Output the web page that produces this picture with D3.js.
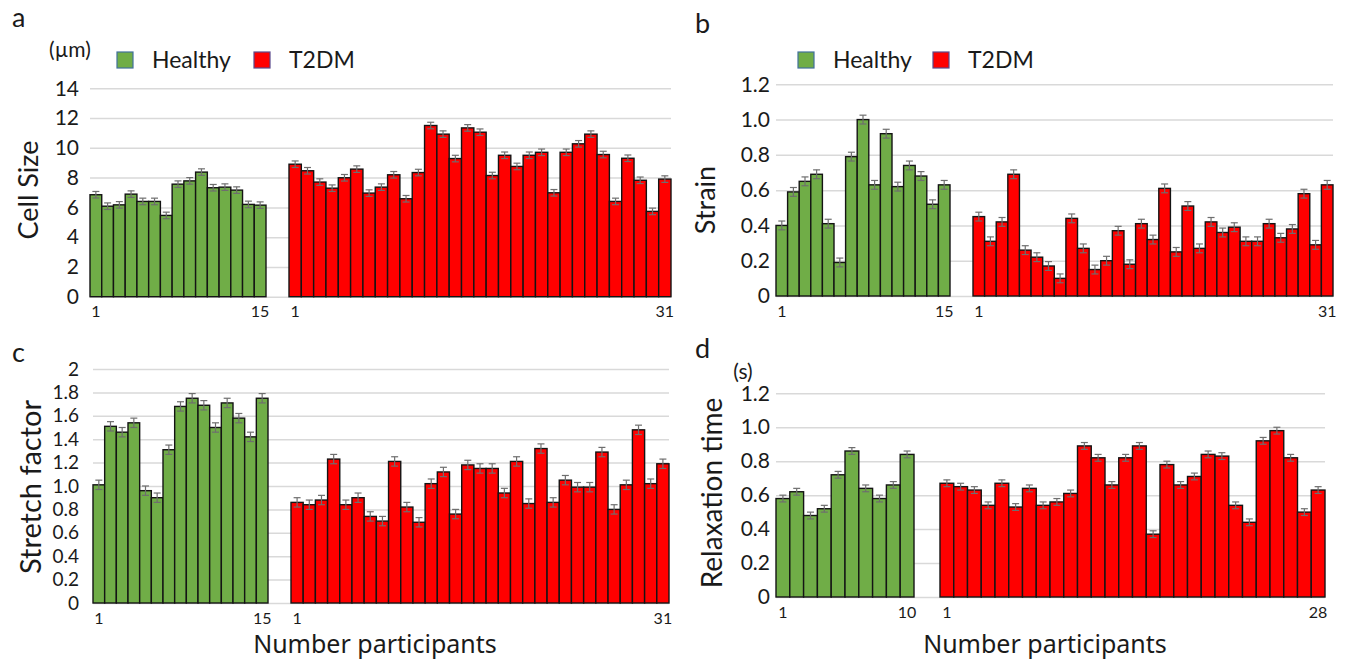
<!DOCTYPE html>
<html>
<head>
<meta charset="utf-8">
<script src="https://cdn.jsdelivr.net/npm/d3@7"></script>
<style>
  body { margin: 0; background: #fff; }
  svg text { font-family: Lato, "Liberation Sans", sans-serif; fill: #1a1a1a; }
</style>
</head>
<body>
<svg id="chart" width="1347" height="662"></svg>
<script>
// values, one per participant
const healthyCellSize = [6.85, 6.08, 6.17, 6.89, 6.4, 6.4, 5.46, 7.56, 7.78, 8.37, 7.32, 7.36, 7.16, 6.2, 6.15];
const t2dmCellSize = [8.9, 8.46, 7.7, 7.29, 7.99, 8.57, 6.96, 7.36, 8.19, 6.58, 8.34, 11.5, 10.92, 9.28, 11.34,
  11.05, 8.14, 9.5, 8.75, 9.5, 9.7, 6.98, 9.7, 10.27, 10.92, 9.55, 6.4, 9.3, 7.82, 5.73, 7.9];

const healthyStrain = [0.40, 0.59, 0.65, 0.69, 0.41, 0.19, 0.79, 1.0, 0.63, 0.92, 0.62, 0.74, 0.68, 0.52, 0.63];
const t2dmStrain = [0.45, 0.31, 0.42, 0.69, 0.26, 0.22, 0.17, 0.10, 0.44, 0.27, 0.15, 0.20, 0.37, 0.18, 0.41,
  0.32, 0.61, 0.25, 0.51, 0.27, 0.42, 0.36, 0.39, 0.31, 0.31, 0.41, 0.33, 0.38, 0.58, 0.29, 0.63];

const healthyStretch = [1.01, 1.51, 1.46, 1.54, 0.96, 0.90, 1.31, 1.68, 1.75, 1.69, 1.50, 1.71, 1.58, 1.42, 1.75];
const t2dmStretch = [0.86, 0.84, 0.88, 1.23, 0.84, 0.90, 0.74, 0.70, 1.21, 0.82, 0.69, 1.02, 1.12, 0.76, 1.18,
  1.15, 1.15, 0.94, 1.21, 0.85, 1.32, 0.86, 1.05, 0.99, 0.99, 1.29, 0.80, 1.01, 1.48, 1.02, 1.19];

const healthyRelax = [0.58, 0.62, 0.48, 0.52, 0.72, 0.86, 0.64, 0.58, 0.66, 0.84];
const t2dmRelax = [0.67, 0.65, 0.63, 0.54, 0.67, 0.53, 0.64, 0.54, 0.56, 0.61, 0.89, 0.82, 0.66, 0.82,
  0.89, 0.37, 0.78, 0.66, 0.71, 0.84, 0.83, 0.54, 0.44, 0.92, 0.98, 0.82, 0.50, 0.63];

// error bar half-widths per panel
const errCellSize = 0.22;
const errStrain = 0.025;
const errStretch = 0.04;
const errRelax = 0.02;

const ticksCellSize = [0, 2, 4, 6, 8, 10, 12, 14];
const ticksStrain = [0, 0.2, 0.4, 0.6, 0.8, 1.0, 1.2];
const ticksStretch = [0, 0.2, 0.4, 0.6, 0.8, 1.0, 1.2, 1.4, 1.6, 1.8, 2];
const ticksRelax = [0, 0.2, 0.4, 0.6, 0.8, 1.0, 1.2];
const labelsCellSize = ["0", "2", "4", "6", "8", "10", "12", "14"];
const labelsStrain = ["0", "0.2", "0.4", "0.6", "0.8", "1.0", "1.2"];
const labelsStretch = ["0", "0.2", "0.4", "0.6", "0.8", "1.0", "1.2", "1.4", "1.6", "1.8", "2"];
const labelsRelax = ["0", "0.2", "0.4", "0.6", "0.8", "1.0", "1.2"];

const legendItems = ["Healthy", "T2DM"];
const green = "#70AD47";
const red = "#FF0000";

const svg = d3.select("#chart");

function drawPanel(p) {
  const g = svg.append("g");
  const y = d3.scaleLinear().domain([0, d3.max(p.ticks)]).range(p.yRange);

  // gridlines
  g.append("g")
    .attr("transform", `translate(${p.gridX[0]},0)`)
    .call(d3.axisRight(y).tickValues(p.ticks).tickSize(p.gridX[1] - p.gridX[0]).tickFormat(""))
    .call(a => a.select(".domain").remove())
    .call(a => a.selectAll("line").attr("stroke", "#d9d9d9").attr("stroke-width", 1.5));

  // y tick labels
  g.append("g")
    .attr("transform", `translate(${p.labelRight},0)`)
    .call(d3.axisLeft(y).tickValues(p.ticks).tickSize(0).tickPadding(0)
      .tickFormat((d, i) => p.labels[i]))
    .call(a => a.select(".domain").remove())
    .call(a => a.selectAll("text").style("font-size", p.tickFont + "px").attr("fill", "#1a1a1a"));

  const groups = [
    {values: p.healthy, range: p.hx, color: green},
    {values: p.t2dm, range: p.tx, color: red}
  ];

  groups.forEach(grp => {
    const ids = d3.range(1, grp.values.length + 1);
    const x = d3.scaleBand().domain(ids).range(grp.range).padding(0);
    const bw = x.bandwidth();
    const rows = grp.values.map((v, i) => ({id: i + 1, v: v}));

    g.append("g").selectAll("rect")
      .data(rows)
      .join("rect")
      .attr("x", d => x(d.id))
      .attr("y", d => y(d.v))
      .attr("width", bw)
      .attr("height", d => y(0) - y(d.v))
      .attr("fill", grp.color)
      .attr("stroke", "#141414")
      .attr("stroke-width", 1.4);

    // error bars
    const eb = g.append("g").attr("stroke", "#6e6e6e").attr("stroke-width", 1.2);
    eb.selectAll("line.v").data(rows).join("line").attr("class", "v")
      .attr("x1", d => x(d.id) + bw / 2).attr("x2", d => x(d.id) + bw / 2)
      .attr("y1", d => y(d.v - p.err)).attr("y2", d => y(d.v + p.err));
    eb.selectAll("line.t").data(rows).join("line").attr("class", "t")
      .attr("x1", d => x(d.id) + bw / 2 - 3.5).attr("x2", d => x(d.id) + bw / 2 + 3.5)
      .attr("y1", d => y(d.v + p.err)).attr("y2", d => y(d.v + p.err));
    eb.selectAll("line.b").data(rows).join("line").attr("class", "b")
      .attr("x1", d => x(d.id) + bw / 2 - 3.5).attr("x2", d => x(d.id) + bw / 2 + 3.5)
      .attr("y1", d => y(d.v - p.err)).attr("y2", d => y(d.v - p.err));

    // first and last participant numbers
    const ends = [ids[0], ids[ids.length - 1]];
    g.append("g").selectAll("text")
      .data(ends)
      .join("text")
      .attr("x", d => x(d) + bw / 2)
      .attr("y", p.yRange[0] + 15)
      .attr("dy", "0.35em")
      .attr("text-anchor", "middle")
      .style("font-size", "16px")
      .text(d => d);
  });

  // panel letter
  g.append("text")
    .attr("x", p.letterPos[0]).attr("y", p.letterPos[1])
    .style("font-size", "27px")
    .text(p.letter);

  // y axis title
  g.append("text")
    .attr("transform", `translate(${p.titlePos[0]},${p.titlePos[1]}) rotate(-90)`)
    .attr("text-anchor", "middle")
    .attr("dy", "0.35em")
    .style("font-size", p.titleFont + "px")
    .text(p.title);

  if (p.unit) {
    g.append("text")
      .attr("x", p.unitPos[0]).attr("y", p.unitPos[1])
      .attr("text-anchor", "middle")
      .attr("dy", "0.35em")
      .style("font-size", "21px")
      .text(p.unit);
  }

  if (p.legendX) {
    const lg = g.append("g").selectAll("g")
      .data(legendItems)
      .join("g")
      .attr("transform", (d, i) => `translate(${p.legendX[i]},${p.legendY})`);
    lg.append("rect")
      .attr("x", 0).attr("y", -8).attr("width", 16).attr("height", 16)
      .attr("fill", (d, i) => i === 0 ? green : red)
      .attr("stroke", (d, i) => i === 0 ? "#41719C" : "#5b4a8c")
      .attr("stroke-width", 1.2);
    lg.append("text")
      .attr("x", 35).attr("y", 0).attr("dy", "0.35em")
      .style("font-size", "23px")
      .text(d => d);
  }

  if (p.xTitle) {
    g.append("text")
      .attr("x", p.xTitlePos[0]).attr("y", p.xTitlePos[1])
      .attr("text-anchor", "middle")
      .attr("dy", "0.35em")
      .style("font-family", "'Noto Sans', sans-serif")
      .style("font-size", "25px")
      .text(p.xTitle);
  }
}

drawPanel({
  healthy: healthyCellSize, t2dm: t2dmCellSize, err: errCellSize,
  ticks: ticksCellSize, labels: labelsCellSize,
  gridX: [90, 671], hx: [90, 266], tx: [289, 671], yRange: [296.7, 88.3],
  labelRight: 79, tickFont: 21,
  letter: "a", letterPos: [12, 27], title: "Cell Size", titlePos: [29, 190], titleFont: 27,
  unit: "(µm)", unitPos: [70, 50],
  legendX: [117, 254], legendY: 60
});

drawPanel({
  healthy: healthyStrain, t2dm: t2dmStrain, err: errStrain,
  ticks: ticksStrain, labels: labelsStrain,
  gridX: [776, 1333], hx: [776, 950], tx: [973, 1333], yRange: [296, 84.3],
  labelRight: 770, tickFont: 21,
  letter: "b", letterPos: [695, 33], title: "Strain", titlePos: [706, 200], titleFont: 27,
  legendX: [798, 933], legendY: 60
});

drawPanel({
  healthy: healthyStretch, t2dm: t2dmStretch, err: errStretch,
  ticks: ticksStretch, labels: labelsStretch,
  gridX: [93, 669], hx: [93, 268], tx: [291, 669], yRange: [603, 369],
  labelRight: 79, tickFont: 19,
  letter: "c", letterPos: [12, 362], title: "Stretch factor", titlePos: [31, 487], titleFont: 29,
  xTitle: "Number participants", xTitlePos: [375, 644]
});

drawPanel({
  healthy: healthyRelax, t2dm: t2dmRelax, err: errRelax,
  ticks: ticksRelax, labels: labelsRelax,
  gridX: [776, 1325], hx: [776, 914], tx: [940, 1325], yRange: [597, 393.3],
  labelRight: 770, tickFont: 21,
  letter: "d", letterPos: [695, 358], title: "Relaxation time", titlePos: [712, 493], titleFont: 28,
  unit: "(s)", unitPos: [743, 372],
  xTitle: "Number participants", xTitlePos: [1045, 644]
});
</script>
</body>
</html>
